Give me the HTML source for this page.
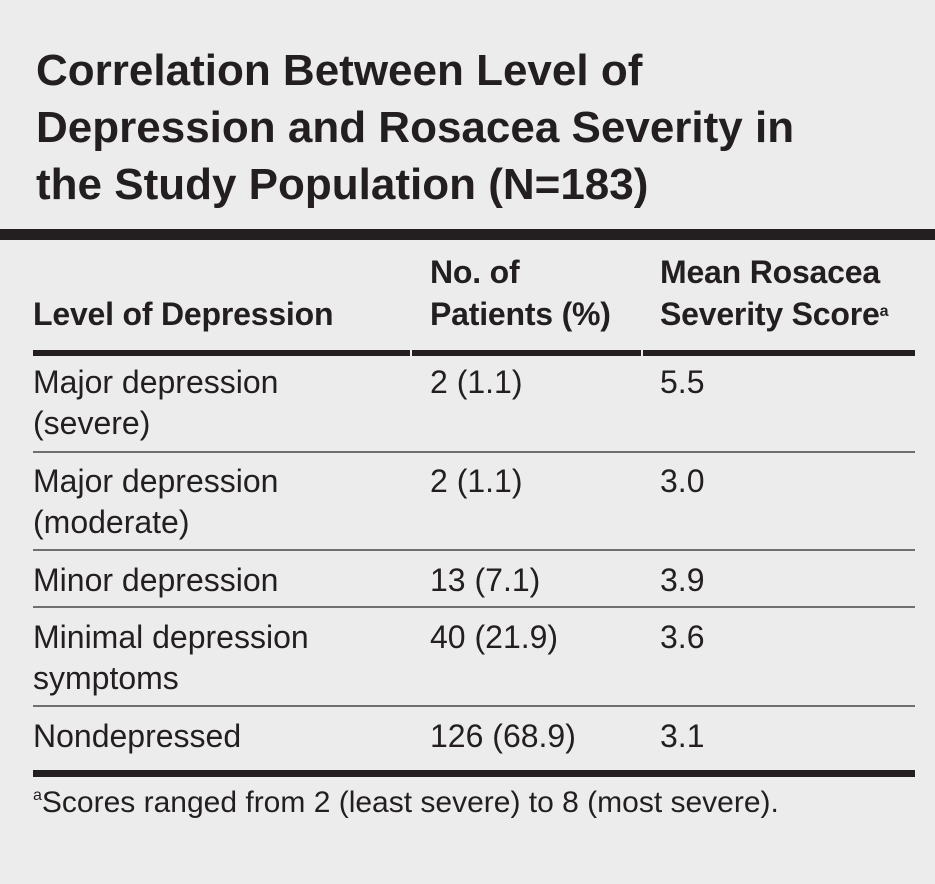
<!DOCTYPE html>
<html><head><meta charset="utf-8">
<style>
html,body{margin:0;padding:0;}
body{width:935px;height:884px;background:#ececec;position:relative;overflow:hidden;font-family:"Liberation Sans",Arial,sans-serif;color:#231f20;}
.t{position:absolute;white-space:nowrap;}
.title{left:36px;font-size:44px;font-weight:bold;line-height:57px;top:42px;}
.hd{font-size:32px;font-weight:bold;letter-spacing:-0.2px;}
.cell{font-size:32px;line-height:41px;}
.line{position:absolute;}
sup{font-size:16px;vertical-align:top;position:relative;top:-2px;}
</style></head><body>
<div class="t title">Correlation Between Level of<br>Depression and Rosacea Severity in<br>the Study Population (N=183)</div>
<div class="line" style="left:0;top:229px;width:935px;height:11px;background:#231f20"></div>

<div class="t hd" style="left:33px;top:296px">Level of Depression</div>
<div class="t hd" style="left:430px;top:251px;line-height:42px">No. of<br>Patients (%)</div>
<div class="t hd" style="left:660px;top:251px;line-height:42px">Mean Rosacea<br>Severity Score<sup>a</sup></div>

<div class="line" style="left:33px;top:350px;width:377px;height:6px;background:#231f20"></div>
<div class="line" style="left:412px;top:350px;width:229px;height:6px;background:#231f20"></div>
<div class="line" style="left:643px;top:350px;width:272px;height:6px;background:#231f20"></div>

<div class="t cell" style="left:33px;top:362px">Major depression<br>(severe)</div>
<div class="t cell" style="left:430px;top:362px">2 (1.1)</div>
<div class="t cell" style="left:660px;top:362px">5.5</div>
<div class="line" style="left:33px;top:451px;width:882px;height:2px;background:#6f6f6f"></div>

<div class="t cell" style="left:33px;top:461px">Major depression<br>(moderate)</div>
<div class="t cell" style="left:430px;top:461px">2 (1.1)</div>
<div class="t cell" style="left:660px;top:461px">3.0</div>
<div class="line" style="left:33px;top:549px;width:882px;height:2px;background:#6f6f6f"></div>

<div class="t cell" style="left:33px;top:560px">Minor depression</div>
<div class="t cell" style="left:430px;top:560px">13 (7.1)</div>
<div class="t cell" style="left:660px;top:560px">3.9</div>
<div class="line" style="left:33px;top:606px;width:882px;height:2px;background:#6f6f6f"></div>

<div class="t cell" style="left:33px;top:617px">Minimal depression<br>symptoms</div>
<div class="t cell" style="left:430px;top:617px">40 (21.9)</div>
<div class="t cell" style="left:660px;top:617px">3.6</div>
<div class="line" style="left:33px;top:705px;width:882px;height:2px;background:#6f6f6f"></div>

<div class="t cell" style="left:33px;top:716px">Nondepressed</div>
<div class="t cell" style="left:430px;top:716px">126 (68.9)</div>
<div class="t cell" style="left:660px;top:716px">3.1</div>

<div class="line" style="left:33px;top:770px;width:882px;height:7px;background:#231f20"></div>
<div class="t" style="left:33px;top:786px;font-size:30px;"><sup style="font-size:16px;top:1px">a</sup>Scores ranged from 2 (least severe) to 8 (most severe).</div>
</body></html>
